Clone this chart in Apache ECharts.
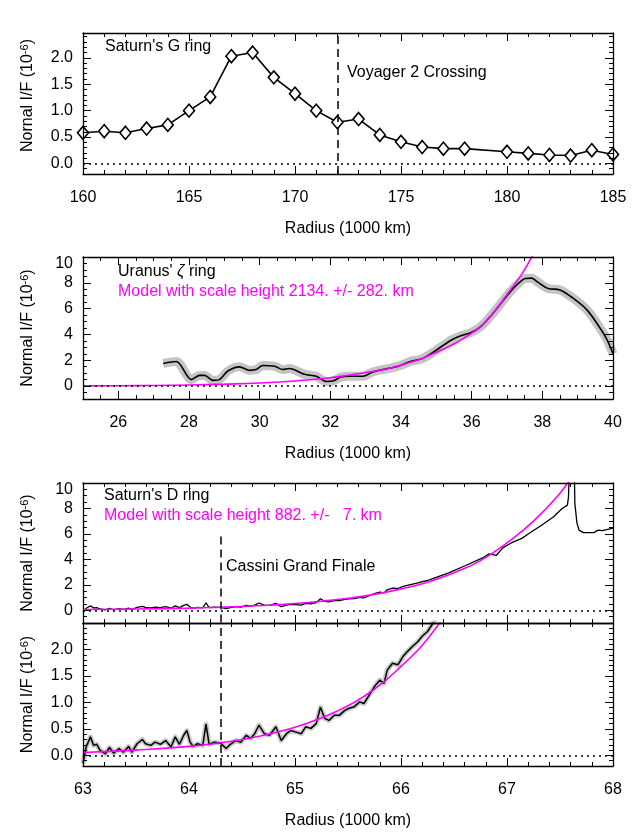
<!DOCTYPE html>
<html><head><meta charset="utf-8">
<script src="https://cdn.jsdelivr.net/npm/echarts@6/dist/echarts.min.js"></script>
<style>html,body{margin:0;padding:0;background:#fff}#c{width:638px;height:840px}</style>
</head><body><div id="c"></div>
<script>
// ---------------- data ----------------
const gRingRadius = [160,161,162,163,164,165,166,167,168,169,170,171,172,173,174,175,176,177,178,180,181,182,183,184,185];
const gRingIF = [0.58,0.61,0.58,0.66,0.73,1.00,1.26,2.03,2.10,1.63,1.32,1.00,0.78,0.84,0.54,0.41,0.31,0.28,0.28,0.22,0.19,0.16,0.15,0.25,0.17];
const voyagerCrossing = 172;

const uranusRadius = [27.27,27.64,28.07,28.30,28.44,28.68,28.87,29.10,29.43,29.71,29.90,30.09,30.42,30.66,30.84,31.27,31.60,31.88,32.07,32.30,32.54,32.92,33.20,33.48,33.71,34.00,34.29,34.57,34.86,35.14,35.43,35.71,36.00,36.29,36.57,36.86,37.09,37.30,37.52,37.70,37.87,38.16,38.50,38.85,39.25,39.60,39.83,40.00];
const uranusIF = [1.75,1.90,0.50,0.83,0.83,0.44,0.52,1.17,1.49,1.22,1.28,1.59,1.54,1.28,1.36,0.91,0.76,0.36,0.39,0.70,0.76,0.76,1.09,1.28,1.40,1.62,1.93,2.09,2.53,3.05,3.57,3.91,4.17,4.69,5.53,6.52,7.30,7.90,8.34,8.36,8.05,7.56,7.45,6.85,5.94,4.64,3.60,2.50];
const uranusModelRadius = [25,26,27,28,29,30,31,32,33,34,35,36,36.5,37,37.4,37.7,37.85];
const uranusModelIF = [0.02,0.03,0.05,0.09,0.15,0.24,0.40,0.65,1.05,1.62,2.62,4.10,5.30,7.10,8.60,10.0,10.8];

const dRingRadius = [63.00,63.03,63.07,63.10,63.13,63.16,63.21,63.25,63.29,63.34,63.38,63.43,63.46,63.51,63.56,63.59,63.64,63.68,63.73,63.78,63.83,63.87,63.91,63.95,63.98,64.01,64.04,64.08,64.13,64.16,64.19,64.24,64.30,64.35,64.39,64.44,64.49,64.54,64.58,64.62,64.66,64.71,64.76,64.82,64.87,64.92,64.96,65.01,65.06,65.10,65.15,65.20,65.24,65.28,65.32,65.37,65.42,65.47,65.51,65.56,65.61,65.65,65.70,65.75,65.80,65.84,65.87,65.92,65.97,66.02,66.06,66.11,66.16,66.20,66.25,66.30,66.45,66.61,66.77,66.83,66.90,66.96,67.04,67.14,67.21,67.33,67.44,67.52,67.57,67.58,67.60,67.63,67.64,67.66,67.68,67.72,67.82,67.86,67.90,68.00];
const dRingIF = [-0.15,0.16,0.35,0.19,0.21,0.10,0.03,0.15,0.04,0.13,0.06,0.17,0.06,0.22,0.30,0.22,0.19,0.25,0.21,0.28,0.16,0.35,0.21,0.38,0.47,0.25,0.17,0.22,0.19,0.59,0.21,0.25,0.23,0.13,0.21,0.28,0.25,0.38,0.32,0.41,0.57,0.41,0.38,0.54,0.28,0.41,0.47,0.44,0.41,0.54,0.51,0.60,0.91,0.70,0.66,0.76,0.76,0.85,0.89,0.92,1.01,0.98,1.14,1.30,1.42,1.36,1.61,1.74,1.71,1.87,1.96,2.06,2.15,2.25,2.34,2.49,2.94,3.52,4.11,4.43,4.32,4.90,5.29,5.65,6.05,6.70,7.35,8.00,8.26,8.90,14.0,14.0,8.40,6.85,6.30,6.10,6.10,6.30,6.25,6.45];
const dRingModelRadius = [63.0,63.5,64.0,64.3,64.5,64.75,65.0,65.25,65.5,65.75,66.0,66.25,66.5,66.75,67.0,67.25,67.5,67.6];
const dRingModelIF = [0.055,0.10,0.17,0.24,0.30,0.40,0.53,0.71,0.94,1.25,1.68,2.20,2.95,3.90,5.30,7.00,9.20,10.4];
const cassiniGrandFinale = 64.3;

const xTicksG = [160,165,170,175,180,185];
const yTicksG = [0,0.5,1,1.5,2];
const xTicksU = [26,28,30,32,34,36,38,40];
const yTicksU = [0,2,4,6,8,10];
const xTicksD = [63,64,65,66,67,68];
const yTicksDtop = [0,2,4,6,8,10];
const yTicksDbot = [0,0.5,1,1.5,2];

// ---------------- layout / style ----------------
const FONT = "'Liberation Sans', Arial, Helvetica, sans-serif";
const FS = 16;
const MAGENTA = '#ff00ff';
const grids = [
  {left:83, top:33, width:530, height:141},
  {left:83, top:257, width:530, height:142},
  {left:83, top:483, width:530, height:140},
  {left:83, top:623, width:530, height:143}
];
const xAxes = [], yAxes = [];
const yName = (w) => '{n|' + w + ' I/F (10}{s|-6}{n|)}';
const nameStyle = {color:'#000', fontSize:FS, fontFamily:FONT,
  rich:{n:{fontSize:FS, fontFamily:FONT, color:'#000'}, s:{fontSize:11, fontFamily:FONT, color:'#000', verticalAlign:'top', padding:[0,0,7,0]}}};

function addAxes(list, dim, gi, min, max, majors, minorStep, o) {
  const isX = dim === 'x';
  const positions = isX ? ['bottom','top'] : ['left','right'];
  const majorIdx = list.length;
  positions.forEach((pos, k) => {
    const ax = {
      type:'value', gridIndex:gi, min:min, max:max, position:pos,
      axisLine:{show:true, onZero:false, lineStyle:{color:'#000', width:1.3}},
      axisTick:{show:true, inside:true, length:8, customValues:majors, lineStyle:{color:'#000', width:1}},
      axisLabel:{show:false},
      splitLine:{show:false}, z:5
    };
    if (k === 0 && o.labels) {
      ax.axisLabel = {show:true, customValues:majors, color:'#000', fontSize:FS, fontFamily:FONT,
        margin: isX ? 16 : 10, formatter:o.fmt,
        rich:{t:{color:'#000', fontSize:FS, fontFamily:FONT, padding:[14,0,0,0]}}};
    }
    if (k === 0 && o.name) {
      ax.name = o.name; ax.nameLocation = 'middle'; ax.nameGap = o.nameGap;
      ax.nameTextStyle = Object.assign({}, nameStyle, o.nameExtra || {});
      if (!isX) ax.nameRotate = 90;
    }
    list.push(ax);
    list.push({
      type:'value', gridIndex:gi, min:min, max:max, interval:minorStep, position:pos,
      axisLine:{show:false, onZero:false},
      axisTick:{show:true, inside:true, length:4, lineStyle:{color:'#000', width:1}},
      axisLabel:{show:false}, splitLine:{show:false}, z:5
    });
  });
  return majorIdx;
}
const f1 = v => v.toFixed(1);
const fInt = v => v === 10 ? '{t|10}' : String(v);

const xG = addAxes(xAxes,'x',0,160,185,xTicksG,1,{labels:true, fmt:String, name:'Radius (1000 km)', nameGap:47});
const yG = addAxes(yAxes,'y',0,-0.2,2.47,yTicksG,0.1,{labels:true, fmt:f1, name:yName('Nornal'), nameGap:46, nameExtra:{padding:[0,0,0,16]}});
const xU = addAxes(xAxes,'x',1,25,40,xTicksU,0.5,{labels:true, fmt:String, name:'Radius (1000 km)', nameGap:47});
const yU = addAxes(yAxes,'y',1,-1,10,yTicksU,0.5,{labels:true, fmt:fInt, name:yName('Normal'), nameGap:46});
const xD1 = addAxes(xAxes,'x',2,63,68,xTicksD,0.2,{labels:false});
const yD1 = addAxes(yAxes,'y',2,-1,10,yTicksDtop,0.5,{labels:true, fmt:fInt, name:yName('Normal'), nameGap:46});
const xD2 = addAxes(xAxes,'x',3,63,68,xTicksD,0.2,{labels:true, fmt:String, name:'Radius (1000 km)', nameGap:47});
const yD2 = addAxes(yAxes,'y',3,-0.2,2.5,yTicksDbot,0.1,{labels:true, fmt:f1, name:yName('Normal'), nameGap:46});

const zip = (a, b) => a.map((x, i) => [x, b[i]]);
const dotted = {type:[2,4], color:'#000', width:1.5};
const dashed = {type:[8,5], color:'#000', width:1.5};
function ml(items) { return {silent:true, symbol:['none','none'], label:{show:false}, animation:false, data:items}; }

const series = [
  // Panel 1: Saturn's G ring
  {type:'line', xAxisIndex:xG, yAxisIndex:yG, data:zip(gRingRadius, gRingIF),
   symbol:'diamond', symbolSize:[11,13], lineStyle:{color:'#000', width:1.6},
   itemStyle:{color:'#fff', borderColor:'#000', borderWidth:1.6},
   markLine: ml([{yAxis:0, lineStyle:dotted}, {xAxis:voyagerCrossing, lineStyle:dashed}]), z:3},
  // Panel 2: Uranus zeta ring
  {type:'line', xAxisIndex:xU, yAxisIndex:yU, data:zip(uranusRadius, uranusIF), smooth:0.3,
   symbol:'none', lineStyle:{color:'#c4c4c4', width:9, cap:'butt', join:'round'}, z:1,
   markLine: ml([{yAxis:0, lineStyle:dotted}])},
  {type:'line', xAxisIndex:xU, yAxisIndex:yU, data:zip(uranusRadius, uranusIF), smooth:0.3,
   symbol:'none', lineStyle:{color:'#000', width:1.6}, z:2},
  {type:'line', xAxisIndex:xU, yAxisIndex:yU, data:zip(uranusModelRadius, uranusModelIF), smooth:true,
   symbol:'none', lineStyle:{color:MAGENTA, width:1.6}, z:3},
  // Panel 3: Saturn's D ring (full)
  {type:'line', xAxisIndex:xD1, yAxisIndex:yD1, data:zip(dRingRadius, dRingIF),
   symbol:'none', lineStyle:{color:'#000', width:1.3}, z:2,
   markLine: ml([{yAxis:0, lineStyle:dotted}, [{coord:[cassiniGrandFinale, 5.8], lineStyle:dashed}, {coord:[cassiniGrandFinale, -1]}]])},
  {type:'line', xAxisIndex:xD1, yAxisIndex:yD1, data:zip(dRingModelRadius, dRingModelIF), smooth:true,
   symbol:'none', lineStyle:{color:MAGENTA, width:1.6}, z:3},
  // Panel 4: Saturn's D ring (zoom)
  {type:'line', xAxisIndex:xD2, yAxisIndex:yD2, data:zip(dRingRadius, dRingIF),
   symbol:'none', lineStyle:{color:'#c8c8c8', width:5, join:'round'}, z:1,
   markLine: ml([{yAxis:0, lineStyle:dotted}, {xAxis:cassiniGrandFinale, lineStyle:dashed}])},
  {type:'line', xAxisIndex:xD2, yAxisIndex:yD2, data:zip(dRingRadius, dRingIF),
   symbol:'none', lineStyle:{color:'#000', width:1.5}, z:2},
  {type:'line', xAxisIndex:xD2, yAxisIndex:yD2, data:zip(dRingModelRadius, dRingModelIF), smooth:true,
   symbol:'none', lineStyle:{color:MAGENTA, width:1.6}, z:3}
];

const txt = (x, y, text, fill, rich) => ({type:'text', x:x, y:y, z:10,
  style:{text:text, fill:fill, fontSize:FS, fontFamily:FONT, verticalAlign:'middle', rich:rich}});
const graphic = [
  txt(105, 47, "Saturn's G ring", '#000'),
  txt(347, 73, 'Voyager 2 Crossing', '#000'),
  txt(118, 272, "Uranus' {z|ζ} ring", '#000', {z:{fontStyle:'italic', fontSize:FS, fontFamily:FONT, fill:'#000'}}),
  txt(118, 292, 'Model with scale height 2134. +/- 282. km', MAGENTA),
  txt(104, 496, "Saturn's D ring", '#000'),
  txt(104, 516, 'Model with scale height 882. +/-   7. km', MAGENTA),
  txt(226, 567, 'Cassini Grand Finale', '#000')
];

const chart = echarts.init(document.getElementById('c'), null, {renderer:'canvas'});
chart.setOption({
  animation:false,
  backgroundColor:'#fff',
  grid: grids.map(g => Object.assign({containLabel:false, outerBoundsMode:'none'}, g)),
  xAxis: xAxes, yAxis: yAxes, series: series, graphic: graphic
});
</script></body></html>
